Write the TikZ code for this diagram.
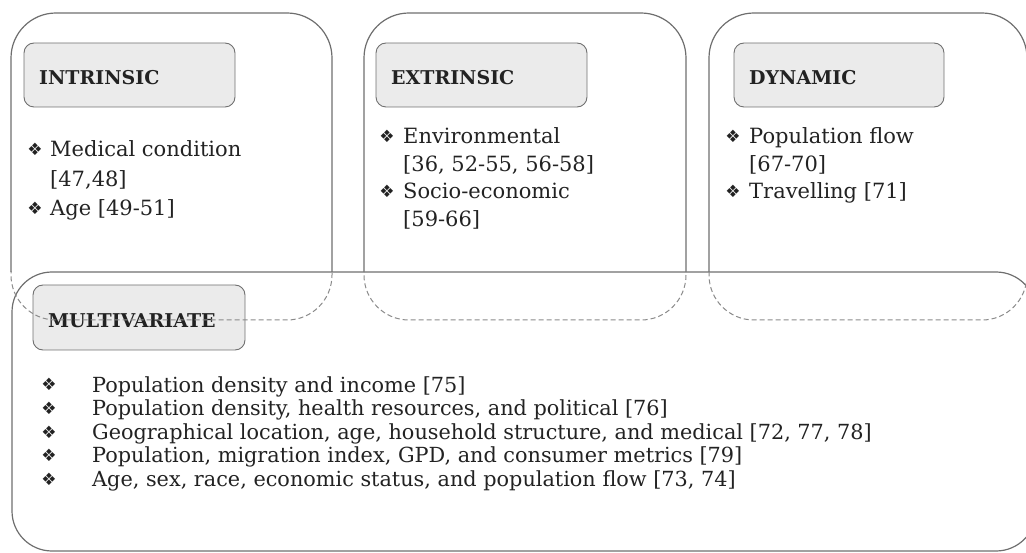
\documentclass[tikz,border=0pt]{standalone}
\usepackage{fontspec}
\setmainfont{DejaVu Serif}
\newfontfamily\symfont{DejaVu Sans}
\definecolor{linegray}{HTML}{6E6E6E}
\definecolor{dashgray}{HTML}{8A8A8A}
\definecolor{lblborder}{HTML}{707070}
\definecolor{lblfill}{HTML}{EBEBEB}
\definecolor{textcol}{HTML}{222222}
\begin{document}
\begin{tikzpicture}[x=1pt,y=-1pt,
  bigbox/.style={line width=1.2pt, rounded corners=45pt, inner sep=0pt, minimum height=307pt},
  solidpart/.style={draw=linegray},
  dashpart/.style={draw=dashgray, line width=1pt, dash pattern=on 5pt off 3pt},
  lbl/.style={draw=lblborder, fill=lblfill, line width=0.9pt, rounded corners=10pt, inner sep=0pt},
  lbltext/.style={anchor=base west, font=\bfseries\fontsize{19}{19}\selectfont, text=textcol, inner sep=0pt},
  body/.style={anchor=base west, font=\fontsize{21}{21}\selectfont, inner sep=0pt, text=textcol},
  mbody/.style={anchor=base west, font=\fontsize{20.8}{20.8}\selectfont, inner sep=0pt, text=textcol},
  bul/.style={font=\symfont\fontsize{17}{17}\selectfont, inner sep=0pt, text=textcol, anchor=base},
]
\useasboundingbox (0,0) rectangle (1026,553);

% multivariate big box
\node[draw=linegray, line width=1.2pt, rounded corners=40pt, inner sep=0pt,
      minimum width=1024pt, minimum height=279pt] (multi) at (524,411.5) {};

% label boxes
\node[lbl, minimum width=211pt, minimum height=64pt] (lintr) at (129.5,75) {};
\node[lbl, minimum width=211pt, minimum height=64pt] (lextr) at (481.5,75) {};
\node[lbl, minimum width=210pt, minimum height=64pt] (ldyn) at (839,75) {};
\node[lbl, minimum width=212pt, minimum height=65pt] (lmulti) at (139,317.5) {};

\node[lbltext] (tintr) at (39,85) {INTRINSIC};
\node[lbltext] (textr) at (391,85) {EXTRINSIC};
\node[lbltext] (tdyn) at (749,85) {DYNAMIC};
\node[lbltext] (tmulti) at (48,328) {MULTIVARIATE};

% intrinsic list
\node[bul] (b1) at (35,156) {❖};
\node[body] (i1) at (50,157) {Medical condition};
\node[body] (i2) at (50,187) {[47,48]};
\node[bul] (b2) at (35,215) {❖};
\node[body] (i3) at (50,216) {Age [49-51]};

% extrinsic list
\node[bul] (b3) at (387,143) {❖};
\node[body] (e1) at (403,144) {Environmental};
\node[body] (e2) at (403,172) {[36, 52-55, 56-58]};
\node[bul] (b4) at (387,198) {❖};
\node[body] (e3) at (403,199) {Socio-economic};
\node[body] (e4) at (403,227) {[59-66]};

% dynamic list
\node[bul] (b5) at (733,143) {❖};
\node[body] (d1) at (749,144) {Population flow};
\node[body] (d2) at (749,172) {[67-70]};
\node[bul] (b6) at (733,198) {❖};
\node[body] (d3) at (749,199) {Travelling [71]};

% multivariate list
\node[bul] (m1b) at (49,391) {❖};
\node[mbody] (m1) at (92,392) {Population density and income [75]};
\node[bul] (m2b) at (49,414) {❖};
\node[mbody] (m2) at (92,415) {Population density, health resources, and political [76]};
\node[bul] (m3b) at (49,438) {❖};
\node[mbody] (m3) at (92,439) {Geographical location, age, household structure, and medical [72, 77, 78]};
\node[bul] (m4b) at (49,461) {❖};
\node[mbody] (m4) at (92,462) {Population, migration index, GPD, and consumer metrics [79]};
\node[bul] (m5b) at (49,485) {❖};
\node[mbody] (m5) at (92,486) {Age, sex, race, economic status, and population flow [73, 74]};

% top boxes: solid above the multivariate box, dashed inside it
\begin{scope}
\clip (0,0) rectangle (1026,272);
\node[bigbox, solidpart, minimum width=321pt] (intr) at (171.5,166.5) {};
\node[bigbox, solidpart, minimum width=322pt] (extr) at (525,166.5) {};
\node[bigbox, solidpart, minimum width=318pt] (dyn) at (868,166.5) {};
\end{scope}
\begin{scope}
\clip (0,272) rectangle (1026,553);
\node[bigbox, dashpart, minimum width=321pt] (intrd) at (171.5,166.5) {};
\node[bigbox, dashpart, minimum width=322pt] (extrd) at (525,166.5) {};
\node[bigbox, dashpart, minimum width=318pt] (dynd) at (868,166.5) {};
\end{scope}
\end{tikzpicture}
\end{document}
